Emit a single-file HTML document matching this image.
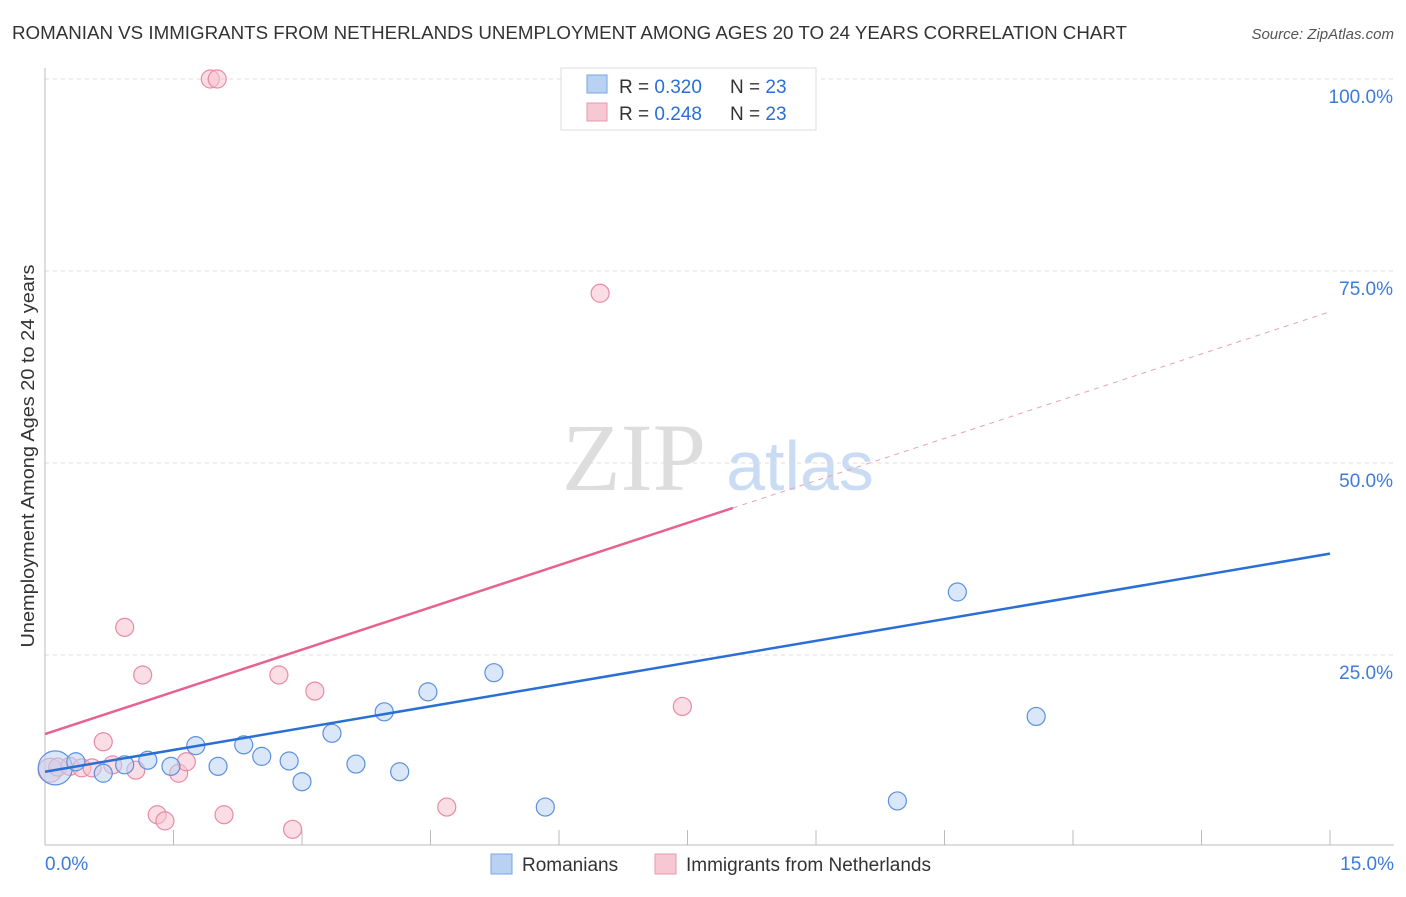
<!DOCTYPE html>
<html><head><meta charset="utf-8"><style>
body{margin:0;background:#fff;font-family:"Liberation Sans",sans-serif}
</style></head><body>
<svg width="1406" height="892" xmlns="http://www.w3.org/2000/svg">
<text x="12" y="39" font-size="18" fill="#333" textLength="1115" lengthAdjust="spacingAndGlyphs">ROMANIAN VS IMMIGRANTS FROM NETHERLANDS UNEMPLOYMENT AMONG AGES 20 TO 24 YEARS CORRELATION CHART</text>
<text x="1394" y="39" font-size="15" fill="#555" font-style="italic" text-anchor="end">Source: ZipAtlas.com</text>
<text x="634" y="490" font-size="96" fill="#ddd" font-family="Liberation Serif,serif" text-anchor="middle">ZIP</text>
<text x="800" y="490" font-size="70" fill="#c9dcf3" text-anchor="middle">atlas</text>
<g id="grid"></g>
<g id="axes"></g>
<g id="marks"></g>
<text transform="translate(34,456) rotate(-90)" font-size="18" fill="#333" textLength="383" lengthAdjust="spacingAndGlyphs" text-anchor="middle">Unemployment Among Ages 20 to 24 years</text>
<g>
<rect x="561" y="68" width="255" height="62" fill="#fff" stroke="#ddd"/>
<rect x="587" y="75" width="20" height="18" fill="#b9d2f3" stroke="#7aa3dd"/>
<rect x="587" y="103" width="20" height="18" fill="#f7c7d4" stroke="#e99ab0"/>
<text x="619" y="93" font-size="19" fill="#333">R = <tspan fill="#2a6fd6">0.320</tspan></text>
<text x="730" y="93" font-size="19" fill="#333">N = <tspan fill="#2a6fd6">23</tspan></text>
<text x="619" y="120" font-size="19" fill="#333">R = <tspan fill="#2a6fd6">0.248</tspan></text>
<text x="730" y="120" font-size="19" fill="#333">N = <tspan fill="#2a6fd6">23</tspan></text>
</g>
<g>
<rect x="491" y="854" width="21" height="20" fill="#b9d2f3" stroke="#7aa3dd"/>
<text x="522" y="871" font-size="19" fill="#333">Romanians</text>
<rect x="655" y="854" width="21" height="20" fill="#f7c7d4" stroke="#e99ab0"/>
<text x="686" y="871" font-size="19" fill="#333">Immigrants from Netherlands</text>
</g>
</svg>
<script>
const yTicks=[100,75,50,25];
const yTickLabels=["100.0%","75.0%","50.0%","25.0%"];
const xTickVals=[0,1.5,3,4.5,6,7.5,9,10.5,12,13.5,15];
const blueX=[0.12,0.36,0.68,0.93,1.20,1.47,1.76,2.02,2.32,2.53,2.85,3.00,3.35,3.63,3.96,4.14,4.47,5.24,5.84,9.95,10.65,11.57,6.69];
const blueY=[10.3,11.1,9.6,10.7,11.3,10.5,13.2,10.5,13.3,11.8,11.2,8.5,14.8,10.8,17.6,9.8,20.2,22.7,5.2,6.0,33.2,17.0,100];
const pinkX=[0.06,0.15,0.29,0.43,0.55,0.68,0.79,0.93,1.06,1.14,1.31,1.40,1.56,1.65,2.09,1.93,2.01,2.73,2.89,3.15,4.69,6.48,7.44];
const pinkY=[10.0,10.4,10.5,10.3,10.3,13.7,10.7,28.6,10.0,22.4,4.2,3.4,9.6,11.1,4.2,100,100,22.4,2.3,20.3,5.2,72.1,18.3];
const blueLine=[9.8,38.2];
const pinkLine=[14.7,69.7];
const pinkSolidEnd=8.03;
const NS="http://www.w3.org/2000/svg";
const X=v=>45+v/15*1285, Y=v=>847-v*7.68;
function mk(tag,attrs,parent){const e=document.createElementNS(NS,tag);for(const k in attrs)e.setAttribute(k,attrs[k]);document.getElementById(parent).appendChild(e);return e;}
yTicks.forEach((t,i)=>{
 const l=mk('line',{x1:45,x2:1394,y1:Y(t),y2:Y(t),stroke:'#ddd','stroke-dasharray':'4,4'},'grid');
 
 
 const tx=mk('text',{x:1393,y:Y(t)+24,'font-size':19,fill:'#3d7bd9','text-anchor':'end'},'grid');
 tx.textContent=yTickLabels[i];
 
 
});
const ax=mk('line',{x1:45,x2:1394,y1:845,y2:845,stroke:'#bbb'},'axes');


const ay=mk('line',{x1:45,x2:45,y1:68,y2:845,stroke:'#bbb'},'axes');


xTickVals.forEach(v=>{
 const t=mk('line',{x1:X(v),x2:X(v),y1:830,y2:845,stroke:'#bbb'},'axes');
 
 
});
const xl0=mk('text',{x:45,y:870,'font-size':19,fill:'#3d7bd9'},'axes');xl0.textContent='0.0%';


const xl1=mk('text',{x:1394,y:870,'font-size':19,fill:'#3d7bd9','text-anchor':'end'},'axes');xl1.textContent='15.0%';


function dots(xs,ys,fill,stroke,name,bigR){xs.forEach((x,i)=>{
 const c=mk('circle',{cx:X(x),cy:Y(ys[i]),r:i===0?bigR:9,fill:fill,'fill-opacity':0.55,stroke:stroke,'stroke-width':1.2},'marks');
 
 
});}
dots(pinkX,pinkY,'#f7c2d0','#e88aa5','immigrant-point',12);
dots(blueX,blueY,'#bcd4f2','#5d90dd','romanian-point',17);
const bl=mk('line',{x1:X(0),y1:Y(blueLine[0]),x2:X(15),y2:Y(blueLine[1]),stroke:'#2a6fd6','stroke-width':2.5},'marks');


const py=x=>pinkLine[0]+(pinkLine[1]-pinkLine[0])*x/15;
const pl=mk('line',{x1:X(0),y1:Y(py(0)),x2:X(pinkSolidEnd),y2:Y(py(pinkSolidEnd)),stroke:'#e8628f','stroke-width':2.5},'marks');


const pd=mk('line',{x1:X(pinkSolidEnd),y1:Y(py(pinkSolidEnd)),x2:X(15),y2:Y(py(15)),stroke:'#e8a0b5','stroke-width':1,'stroke-dasharray':'5,5'},'marks');


</script>
</body></html>
